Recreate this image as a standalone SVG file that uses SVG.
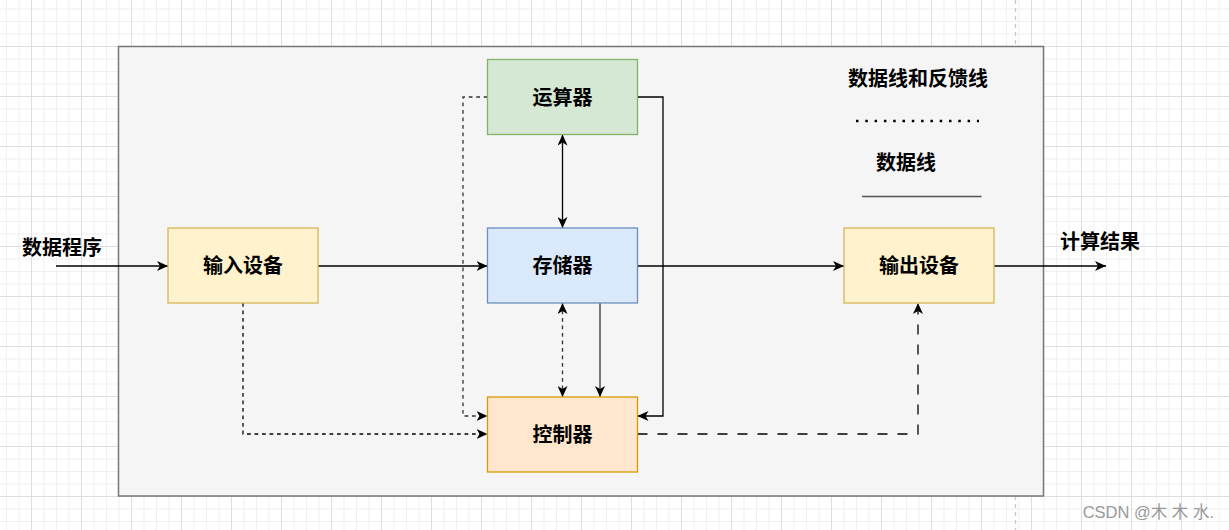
<svg xmlns="http://www.w3.org/2000/svg" width="1229" height="530" viewBox="0 0 1229 530">
<style>
.lbl{font-family:"Liberation Sans","Noto Sans CJK SC",sans-serif;font-weight:bold;font-size:20px;fill:#000;text-anchor:middle}
.node{stroke-width:1.3}
.c{fill:none;stroke:#000;stroke-width:1.3}
.dot{stroke-dasharray:3.75 3.75}
.dash{stroke-dasharray:10 10}
.wm{font-family:"Liberation Sans","Noto Sans CJK SC",sans-serif;font-size:16.5px;fill:#999;text-anchor:end}
</style>
<defs>
<pattern id="grid" patternUnits="userSpaceOnUse" x="31" y="46" width="50" height="50">
<rect x="0" y="0" width="50" height="50" fill="#fff"/>
<rect x="12.5" y="0" width="1" height="50" fill="#f0f0f0"/>
<rect x="25" y="0" width="1" height="50" fill="#f0f0f0"/>
<rect x="37.5" y="0" width="1" height="50" fill="#f0f0f0"/>
<rect x="0" y="12.5" width="50" height="1" fill="#f0f0f0"/>
<rect x="0" y="25" width="50" height="1" fill="#f0f0f0"/>
<rect x="0" y="37.5" width="50" height="1" fill="#f0f0f0"/>
<rect x="0" y="0" width="1" height="50" fill="#dedede"/>
<rect x="0" y="0" width="50" height="1" fill="#dedede"/>
</pattern>
<marker id="arr" viewBox="0 0 11 10" refX="11" refY="5" markerWidth="11" markerHeight="10" markerUnits="userSpaceOnUse" orient="auto-start-reverse">
<path d="M0,0 L11,5 L0,10 L3,5 Z" fill="#000" stroke="none"/>
</marker>
</defs>
<rect x="0" y="0" width="1229" height="530" fill="url(#grid)"/>
<line x1="1015.5" y1="0" x2="1015.5" y2="530" stroke="#c8c8c8" stroke-width="1.3" stroke-dasharray="4 4"/>
<rect id="container" x="118.5" y="46.5" width="925" height="449.5" fill="#f5f5f5" stroke="#777" stroke-width="1.5"/>

<g id="connectors">
<path class="c" d="M56,266 H168" marker-end="url(#arr)"/>
<path class="c" d="M318,266 H487.5" marker-end="url(#arr)"/>
<path class="c" d="M637.5,266 H844" marker-end="url(#arr)"/>
<path class="c" d="M994,266 H1106" marker-end="url(#arr)"/>
<path class="c" d="M562.5,134.5 V228" marker-start="url(#arr)" marker-end="url(#arr)"/>
<path class="c dot" style="stroke:#333" d="M562.5,303 V397" marker-start="url(#arr)" marker-end="url(#arr)"/>
<path class="c" style="stroke:#333" d="M600,303 V397" marker-end="url(#arr)"/>
<path class="c" d="M637.5,97 H663 V416 H637.5" marker-end="url(#arr)"/>
<path class="c dot" style="stroke:#333" d="M487.5,97 H463 V416 H487.5" marker-end="url(#arr)"/>
<path class="c dot" d="M243,303 V434 H487.5" marker-end="url(#arr)"/>
<path class="c dash" d="M637.5,434 H918 V303" marker-end="url(#arr)"/>
</g>

<g id="alu">
<rect class="node" x="487.5" y="59.5" width="150" height="75" fill="#d5e8d4" stroke="#82b366"/>
<text class="lbl" x="562.5" y="104.5">运算器</text>
</g>
<g id="memory">
<rect class="node" x="487.5" y="228" width="150" height="75" fill="#dae8fc" stroke="#6c8ebf"/>
<text class="lbl" x="562.5" y="273">存储器</text>
</g>
<g id="controller">
<rect class="node" x="487.5" y="397" width="150" height="75" fill="#ffe6cc" stroke="#d79b00"/>
<text class="lbl" x="562.5" y="442">控制器</text>
</g>
<g id="input">
<rect class="node" x="168" y="228" width="150" height="75" fill="#fff2cc" stroke="#d6b656"/>
<text class="lbl" x="243" y="273">输入设备</text>
</g>
<g id="output">
<rect class="node" x="844" y="228" width="150" height="75" fill="#fff2cc" stroke="#d6b656"/>
<text class="lbl" x="919" y="273">输出设备</text>
</g>

<g id="labels">
<text class="lbl" x="62" y="254.5">数据程序</text>
<text class="lbl" x="1100" y="248.5">计算结果</text>
</g>

<g id="legend">
<text class="lbl" x="918" y="85.5">数据线和反馈线</text>
<line x1="856" y1="121" x2="979" y2="121" stroke="#000" stroke-width="2.5" stroke-dasharray="2.5 6.8"/>
<text class="lbl" x="906" y="169.5">数据线</text>
<line x1="862" y1="196.5" x2="981.5" y2="196.5" stroke="#555" stroke-width="1.5"/>
</g>

<text class="wm" x="1214" y="518">CSDN @木 木 水.</text>
</svg>
